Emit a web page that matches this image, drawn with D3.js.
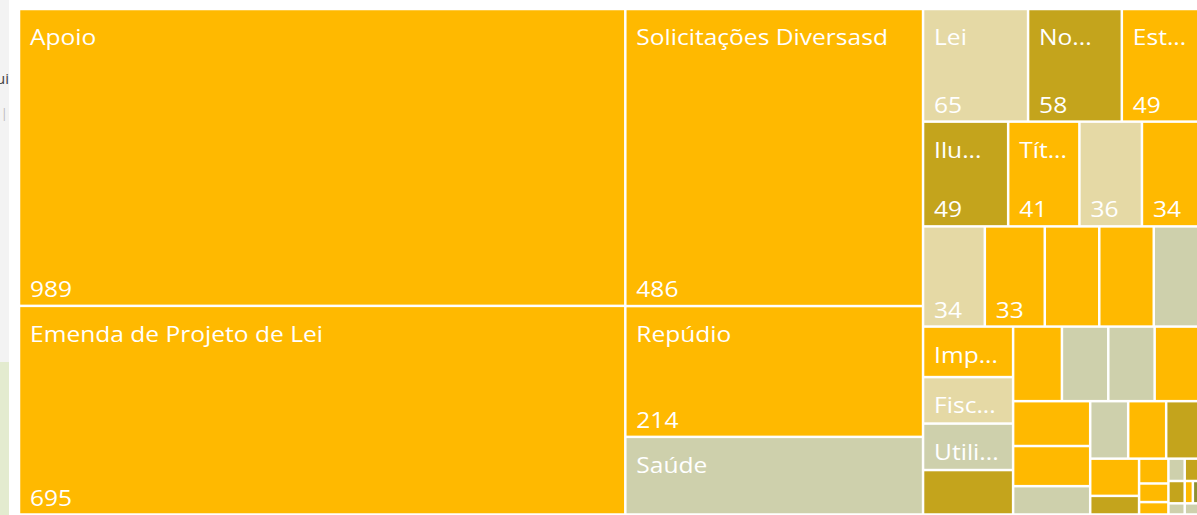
<!DOCTYPE html>
<html>
<head>
<meta charset="utf-8">
<script src="https://cdn.jsdelivr.net/npm/d3@7"></script>
<style>
html, body { margin: 0; padding: 0; background: #fff; overflow: hidden; }
svg { display: block; }
text { font-family: "Segoe UI", "Open Sans", sans-serif; }
</style>
</head>
<body>
<svg id="chart"></svg>
<script>
// Rótulos como aparecem no visual ("" quando o nome não é mostrado)
var categorias = ["Apoio", "Emenda de Projeto de Lei", "Solicitações Diversasd", "Repúdio", "Saúde",
  "Lei", "No...", "Est...", "Ilu...", "Tít...", "", "", "", "", "", "", "",
  "Imp...", "Fisc...", "Utili...", "", "", "", "", "", "", "", "", "", "", "", "", "",
  "", "", "", "", "", "", "", "", "", ""];
var valores = [989, 695, 486, 214, 127,
  65, 58, 49, 49, 41, 36, 34, 34, 33, 30, 30, 26,
  25, 23, 23, 22, 20, 19, 19, 19, 19, 17, 12, 12, 12, 11, 10, 5,
  4, 3, 2, 2, 2, 2, 1, 1, 1, 1];
var grupos = ["laranja", "laranja", "laranja", "laranja", "cinza",
  "bege", "oliva", "laranja", "oliva", "laranja", "bege", "laranja", "bege", "laranja", "laranja", "laranja", "cinza",
  "laranja", "bege", "cinza", "oliva", "laranja", "cinza", "cinza", "laranja", "laranja", "laranja", "cinza", "cinza", "laranja", "oliva", "laranja", "oliva",
  "laranja", "laranja", "laranja", "cinza", "oliva", "oliva", "laranja", "verde", "cinza", "cinza"];

var svgWidth = 1197, svgHeight = 515;
var svg = d3.select("#chart").attr("width", svgWidth).attr("height", svgHeight);

var cor = d3.scaleOrdinal()
  .domain(["laranja", "bege", "oliva", "cinza", "verde"])
  .range(["#FFB900", "#E5D9A5", "#C4A41C", "#CED0AC", "#8C9132"]);

// fundo da página do relatório à esquerda
svg.append("rect").attr("x", 0).attr("y", 0).attr("width", 9).attr("height", 362).attr("fill", "#f3f3f3");
svg.append("rect").attr("x", 0).attr("y", 362).attr("width", 9).attr("height", svgHeight - 362).attr("fill", "#e3ebcf");
svg.append("clipPath").attr("id", "esq").append("rect").attr("x", 0).attr("y", 0).attr("width", 9).attr("height", svgHeight);
var resto = svg.append("g").attr("clip-path", "url(#esq)");
resto.append("text").attr("x", 9).attr("y", 84).attr("text-anchor", "end")
  .style("font-size", "15px").attr("fill", "#444").text("ui");
resto.append("text").attr("x", 8).attr("y", 118).attr("text-anchor", "end")
  .style("font-size", "13px").attr("fill", "#bbb").text("t |");

// squarify com razões diferentes para faixas verticais e horizontais
var razaoColuna = 1.9, razaoLinha = 1.55;
function tileFaixas(parent, x0, y0, x1, y1) {
  var nodes = parent.children, n = nodes.length, value = parent.value, i0 = 0, i1 = 0;
  while (i0 < n) {
    var dx = x1 - x0, dy = y1 - y0;
    var dice = dx < dy * 1.05;
    var ratio = dice ? razaoLinha : razaoColuna;
    var sum = nodes[i1++].value, minV = sum, maxV = sum;
    var alpha = Math.max(dy / dx, dx / dy) / (value * ratio);
    var beta = sum * sum * alpha;
    var minRatio = Math.max(maxV / beta, beta / minV);
    for (; i1 < n; ++i1) {
      var v = nodes[i1].value;
      sum += v;
      var mn = Math.min(minV, v), mx = Math.max(maxV, v);
      beta = sum * sum * alpha;
      var r = Math.max(mx / beta, beta / mn);
      if (r > minRatio) { sum -= v; break; }
      minRatio = r; minV = mn; maxV = mx;
    }
    var row = {value: sum, children: nodes.slice(i0, i1)};
    if (dice) d3.treemapDice(row, x0, y0, x1, value ? y0 += dy * sum / value : y1);
    else d3.treemapSlice(row, x0, y0, value ? x0 += dx * sum / value : x1, y1);
    value -= sum; i0 = i1;
  }
}

var itens = valores.map(function (v, i) {
  return {nome: categorias[i], valor: v, grupo: grupos[i]};
});

var root = d3.hierarchy({children: itens})
  .sum(function (d) { return d.valor || 0; })
  .sort(function (a, b) { return b.value - a.value; });

d3.treemap()
  .tile(tileFaixas)
  .size([1182, 505.5])(root);

var g = svg.append("g").attr("transform", "translate(19,9)");
var gap = 1.25;
var esticar = 1.17; // o texto do visual aparece mais largo

var cel = g.selectAll("g.cel")
  .data(root.leaves())
  .enter().append("g")
  .attr("class", "cel")
  .attr("transform", function (d) { return "translate(" + d.x0 + "," + d.y0 + ")"; });

cel.append("rect")
  .attr("x", gap).attr("y", gap)
  .attr("width", function (d) { return Math.max(0, d.x1 - d.x0 - 2 * gap); })
  .attr("height", function (d) { return Math.max(0, d.y1 - d.y0 - 2 * gap); })
  .attr("fill", function (d) { return cor(d.data.grupo); });

cel.filter(function (d) { return d.data.nome !== ""; })
  .append("text")
  .attr("transform", "translate(11,36) scale(" + esticar + ",1)")
  .attr("fill", "#fff")
  .style("font-size", "21px")
  .style("font-weight", 500)
  .text(function (d) { return d.data.nome; });

cel.filter(function (d) { return (d.x1 - d.x0) >= 58 && (d.y1 - d.y0) >= 90; })
  .append("text")
  .attr("transform", function (d) { return "translate(11," + (d.y1 - d.y0 - 9) + ") scale(" + esticar + ",1)"; })
  .attr("fill", "#fff")
  .style("font-size", "21px")
  .style("font-weight", 500)
  .text(function (d) { return d.data.valor; });
</script>
</body>
</html>
